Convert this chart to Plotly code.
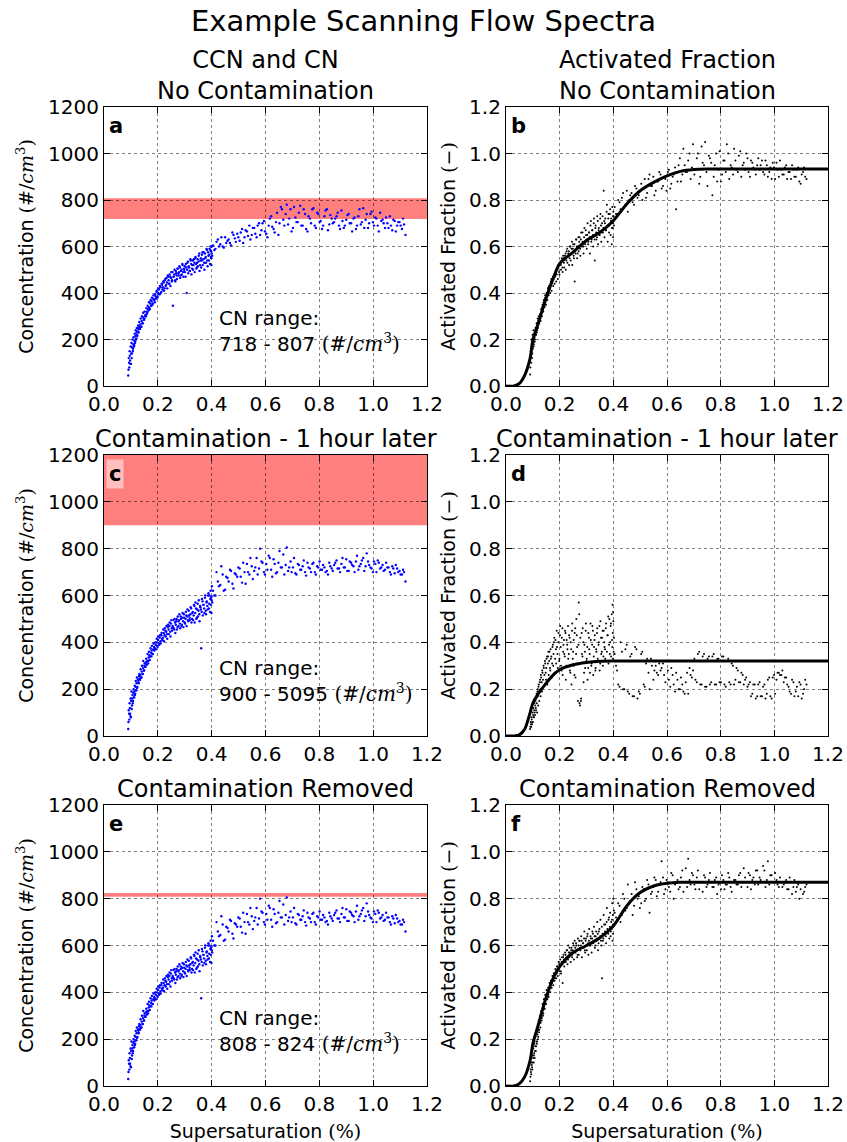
import plotly.graph_objects as go

# ---------------- data ----------------
# scan 1 (up-scan) supersaturation values, %
x_scan = [
    0.090,0.092,0.094,0.095,0.097,0.099,0.100,0.102,0.104,0.106,
    0.108,0.110,0.112,0.114,0.116,0.118,0.120,0.122,0.124,0.127,
    0.129,0.131,0.134,0.136,0.139,0.141,0.144,0.146,0.149,0.151,
    0.154,0.157,0.159,0.162,0.165,0.167,0.170,0.173,0.176,0.178,
    0.181,0.184,0.187,0.190,0.193,0.196,0.199,0.202,0.205,0.208,
    0.211,0.214,0.217,0.220,0.223,0.226,0.229,0.232,0.235,0.238,
    0.241,0.244,0.247,0.250,0.253,0.256,0.259,0.262,0.265,0.268,
    0.271,0.274,0.277,0.280,0.283,0.286,0.289,0.292,0.295,0.298,
    0.301,0.304,0.307,0.310,0.313,0.316,0.319,0.322,0.325,0.328,
    0.331,0.334,0.337,0.340,0.343,0.346,0.349,0.352,0.355,0.358,
    0.361,0.364,0.367,0.370,0.373,0.376,0.379,0.382,0.385,0.388,
    0.390,0.392,0.394,0.396,0.397,0.398,0.399,0.400,0.401,0.402,
    0.410,0.418,0.427,0.436,0.445,0.454,0.463,0.472,0.481,0.490,
    0.499,0.508,0.517,0.526,0.535,0.544,0.553,0.562,0.571,0.580,
    0.589,0.598,0.607,0.616,0.625,0.634,0.643,0.652,0.661,0.670,
    0.679,0.688,0.697,0.706,0.715,0.724,0.733,0.742,0.751,0.760,
    0.769,0.778,0.787,0.796,0.805,0.814,0.823,0.832,0.841,0.850,
    0.859,0.868,0.877,0.886,0.895,0.904,0.913,0.922,0.931,0.940,
    0.949,0.958,0.967,0.976,0.985,0.994,1.003,1.012,1.021,1.030,
    1.039,1.048,1.057,1.066,1.075,1.084,1.093,1.102,1.111,1.120,
]
# scan 2 (down-scan) supersaturation values, %
x_scan2 = [
    0.091,0.093,0.096,0.098,0.101,0.103,0.105,0.107,0.109,0.111,
    0.113,0.115,0.117,0.119,0.121,0.123,0.126,0.128,0.130,0.133,
    0.135,0.138,0.140,0.143,0.145,0.148,0.150,0.153,0.156,0.158,
    0.161,0.164,0.166,0.169,0.172,0.175,0.177,0.180,0.183,0.186,
    0.189,0.192,0.195,0.198,0.201,0.204,0.207,0.210,0.213,0.216,
    0.219,0.222,0.225,0.228,0.231,0.234,0.237,0.240,0.243,0.246,
    0.249,0.252,0.255,0.258,0.261,0.264,0.267,0.270,0.273,0.276,
    0.279,0.282,0.285,0.288,0.291,0.294,0.297,0.300,0.303,0.306,
    0.309,0.312,0.315,0.318,0.321,0.324,0.327,0.330,0.333,0.336,
    0.339,0.342,0.345,0.348,0.351,0.354,0.357,0.360,0.363,0.366,
    0.369,0.372,0.375,0.378,0.381,0.384,0.387,0.391,0.395,0.399,
    0.405,0.414,0.423,0.432,0.441,0.450,0.459,0.468,0.477,0.486,
    0.495,0.504,0.513,0.522,0.531,0.540,0.549,0.558,0.567,0.576,
    0.585,0.594,0.603,0.612,0.621,0.630,0.639,0.648,0.657,0.666,
    0.675,0.684,0.693,0.702,0.711,0.720,0.729,0.738,0.747,0.756,
    0.765,0.774,0.783,0.792,0.801,0.810,0.819,0.828,0.837,0.846,
    0.855,0.864,0.873,0.882,0.891,0.900,0.909,0.918,0.927,0.936,
    0.945,0.954,0.963,0.972,0.981,0.990,0.999,1.008,1.017,1.026,
    1.035,1.044,1.053,1.062,1.071,1.080,1.089,1.098,1.107,1.115,
]

# CCN concentration, panel a
ccn_a = [
    45,120,80,150,110,170,95,185,140,200,
    160,210,175,225,190,240,205,250,215,260,
    230,275,245,290,255,300,270,315,285,320,
    300,335,310,345,325,360,330,370,345,380,
    355,390,370,395,375,410,385,420,395,430,
    400,440,415,450,410,455,430,465,420,470,
    440,480,430,490,455,345,470,500,450,485,
    460,505,475,515,465,495,480,520,470,500,
    490,525,400,530,485,510,495,540,480,520,
    500,545,490,555,505,530,515,560,495,540,
    510,565,520,575,500,550,530,585,515,560,
    540,590,525,600,555,580,520,570,600,560,
    585,620,600,640,595,615,630,605,650,620,
    640,660,615,670,645,630,680,655,690,650,
    700,665,640,720,685,660,745,700,760,690,
    780,720,665,770,705,745,690,760,675,730,
    700,765,680,740,710,690,755,670,735,700,
    720,745,675,710,690,735,700,665,725,690,
    760,705,680,740,700,750,690,720,665,710,
    700,725,680,690,715,665,705,690,720,650,
]
ccn_a2 = [
    70,100,130,95,140,120,165,150,180,170,
    195,185,215,200,230,220,235,245,255,250,
    265,255,280,270,295,285,290,305,300,320,
    315,330,340,335,355,345,365,350,375,370,
    360,385,405,380,400,415,395,425,405,435,
    425,445,420,460,435,445,475,455,440,470,
    465,450,490,470,480,455,495,475,505,485,
    490,510,475,500,525,490,505,515,470,510,
    500,535,515,495,545,525,505,540,520,530,
    550,525,510,545,535,570,520,550,540,575,
    545,530,570,555,590,540,575,565,585,550,
    605,590,630,610,600,640,625,615,660,635,
    655,625,675,640,665,690,650,680,640,700,
    670,710,655,690,730,675,705,650,770,715,
    740,695,760,680,725,705,775,690,740,665,
    720,760,690,745,705,675,730,760,695,720,
    705,730,690,755,680,715,740,700,720,675,
    730,695,765,715,680,740,705,725,690,745,
    715,680,700,730,670,710,690,705,675,695,
]

# CCN concentration, panels c and e (same scan)
ccn_ce = [
    30,110,70,140,95,160,80,190,130,175,
    150,200,165,215,180,235,195,250,210,240,
    225,265,240,285,250,300,265,320,280,310,
    295,330,305,350,320,360,325,375,340,385,
    350,395,365,400,370,415,380,425,390,430,
    395,440,410,455,405,460,425,470,415,475,
    435,485,425,495,450,465,460,500,440,490,
    455,510,470,520,460,500,475,525,465,505,
    480,530,470,540,490,515,495,550,485,525,
    495,560,485,570,500,540,510,580,490,550,
    375,585,515,560,525,600,520,575,540,610,
    545,600,530,620,560,590,525,580,640,570,
    600,700,640,725,620,680,660,705,630,690,
    720,680,740,650,700,760,670,720,690,800,
    740,690,710,760,680,735,700,790,720,690,
    805,720,700,760,690,730,710,750,685,720,
    700,740,690,720,710,730,700,690,725,705,
    740,715,700,760,720,705,745,730,700,770,
    725,750,705,780,730,715,745,700,740,720,
    705,740,720,690,715,730,700,690,710,660,
]
ccn_ce2 = [
    60,95,120,85,150,115,160,140,185,165,
    190,175,210,195,225,205,240,230,255,245,
    260,250,275,265,290,280,300,295,315,305,
    320,310,335,345,340,355,365,350,370,380,
    375,390,400,385,410,395,420,405,430,415,
    420,440,430,450,445,435,465,455,470,445,
    480,460,470,495,455,485,475,500,465,490,
    495,480,510,470,505,490,520,485,500,515,
    510,495,535,505,520,545,500,530,515,555,
    525,545,505,565,535,520,555,540,530,575,
    560,545,590,535,570,555,600,565,585,595,
    620,600,660,645,690,625,675,710,650,695,
    680,715,655,700,735,690,725,705,760,715,
    745,700,735,770,710,755,695,740,720,775,
    730,705,745,720,695,735,710,725,700,740,
    715,735,700,725,745,710,720,705,740,715,
    730,750,715,735,720,755,705,740,725,745,
    710,735,760,725,745,720,700,735,750,715,
    730,710,720,700,725,695,715,705,690,700,
]

# activated fraction, panel b
af_b = [
    0.05,0.15,0.10,0.20,0.12,0.22,0.16,0.24,0.18,0.21,
    0.20,0.25,0.22,0.27,0.24,0.29,0.26,0.30,0.27,0.31,
    0.28,0.33,0.30,0.35,0.32,0.37,0.34,0.39,0.35,0.40,
    0.37,0.42,0.39,0.43,0.40,0.45,0.41,0.46,0.43,0.47,
    0.44,0.48,0.45,0.50,0.46,0.52,0.48,0.53,0.50,0.55,
    0.49,0.55,0.51,0.56,0.50,0.58,0.53,0.57,0.52,0.60,
    0.54,0.59,0.52,0.61,0.55,0.45,0.57,0.63,0.55,0.60,
    0.58,0.64,0.56,0.66,0.60,0.62,0.57,0.68,0.61,0.65,
    0.59,0.70,0.62,0.66,0.57,0.71,0.63,0.67,0.60,0.72,
    0.54,0.69,0.63,0.73,0.61,0.68,0.65,0.74,0.62,0.70,
    0.66,0.84,0.64,0.72,0.67,0.78,0.62,0.74,0.69,0.76,
    0.65,0.72,0.61,0.77,0.68,0.70,0.64,0.75,0.73,0.69,
    0.74,0.80,0.76,0.83,0.78,0.75,0.82,0.79,0.86,0.81,
    0.84,0.80,0.89,0.83,0.91,0.86,0.82,0.88,0.92,0.85,
    0.90,0.84,0.93,0.87,0.91,0.76,0.95,0.88,1.02,0.92,
    0.97,0.89,1.04,0.93,1.00,0.90,0.96,1.05,0.86,0.98,
    0.82,0.95,0.88,1.01,0.91,0.97,1.04,0.89,0.94,1.02,
    0.93,0.99,0.90,0.96,1.00,0.92,0.97,0.94,0.91,0.98,
    0.95,0.92,0.97,0.90,0.94,0.96,0.89,0.93,0.97,0.91,
    0.94,0.89,0.92,0.95,0.90,0.93,0.88,0.91,0.94,0.89,
]
af_b2 = [
    0.08,0.13,0.17,0.14,0.19,0.17,0.21,0.19,0.23,0.22,
    0.24,0.23,0.26,0.25,0.28,0.27,0.30,0.29,0.31,0.33,
    0.34,0.33,0.36,0.35,0.38,0.37,0.39,0.40,0.42,0.41,
    0.43,0.42,0.44,0.46,0.45,0.47,0.46,0.48,0.47,0.49,
    0.48,0.50,0.51,0.49,0.53,0.52,0.54,0.51,0.56,0.53,
    0.55,0.57,0.54,0.59,0.56,0.58,0.55,0.60,0.57,0.62,
    0.59,0.56,0.61,0.58,0.63,0.60,0.57,0.64,0.62,0.59,
    0.63,0.61,0.66,0.60,0.64,0.62,0.67,0.63,0.65,0.61,
    0.66,0.64,0.69,0.62,0.67,0.65,0.70,0.63,0.68,0.66,
    0.64,0.71,0.67,0.65,0.72,0.69,0.66,0.73,0.68,0.71,
    0.70,0.67,0.75,0.69,0.72,0.66,0.74,0.71,0.68,0.73,
    0.77,0.74,0.79,0.81,0.77,0.84,0.80,0.83,0.78,0.85,
    0.82,0.87,0.85,0.81,0.89,0.86,0.90,0.84,0.88,0.91,
    0.86,0.89,0.92,0.85,0.90,0.94,0.88,0.98,0.91,0.95,
    0.92,1.00,0.94,0.91,0.98,0.87,1.03,0.95,0.92,0.99,
    0.96,0.90,1.00,0.93,0.88,0.97,0.92,1.00,0.95,0.91,
    0.97,0.92,1.01,0.95,0.93,0.98,0.90,0.96,0.93,0.95,
    0.93,0.97,0.91,0.95,0.92,0.89,0.94,0.96,0.90,0.93,
    0.91,0.95,0.92,0.89,0.93,0.90,0.94,0.87,0.92,0.90,
]

# activated fraction, panel d
af_d = [
    0.03,0.06,0.04,0.08,0.05,0.10,0.06,0.12,0.08,0.14,
    0.09,0.15,0.11,0.18,0.10,0.20,0.13,0.22,0.15,0.24,
    0.17,0.25,0.19,0.27,0.21,0.29,0.22,0.31,0.24,0.33,
    0.22,0.34,0.26,0.36,0.28,0.33,0.25,0.38,0.30,0.40,
    0.27,0.41,0.31,0.38,0.29,0.44,0.33,0.47,0.30,0.42,
    0.26,0.39,0.35,0.45,0.24,0.41,0.37,0.33,0.43,0.28,
    0.40,0.22,0.48,0.36,0.30,0.44,0.25,0.50,0.38,0.15,
    0.57,0.14,0.42,0.16,0.35,0.46,0.23,0.39,0.29,0.48,
    0.33,0.24,0.44,0.37,0.27,0.41,0.31,0.47,0.26,0.38,
    0.43,0.29,0.36,0.46,0.32,0.40,0.28,0.49,0.35,0.42,
    0.30,0.45,0.38,0.33,0.48,0.36,0.43,0.31,0.50,0.40,
    0.47,0.34,0.52,0.38,0.56,0.44,0.33,0.49,0.36,0.42,
    0.30,0.22,0.40,0.20,0.37,0.19,0.34,0.17,0.38,0.16,
    0.18,0.36,0.21,0.33,0.20,0.30,0.28,0.27,0.31,0.29,
    0.26,0.32,0.24,0.29,0.22,0.27,0.20,0.25,0.19,0.23,
    0.18,0.26,0.28,0.24,0.35,0.22,0.34,0.21,0.33,0.22,
    0.34,0.22,0.33,0.23,0.34,0.22,0.32,0.23,0.31,0.22,
    0.29,0.23,0.27,0.22,0.25,0.22,0.17,0.22,0.16,0.22,
    0.17,0.21,0.16,0.24,0.17,0.25,0.18,0.27,0.26,0.28,
    0.25,0.22,0.19,0.24,0.17,0.21,0.23,0.16,0.20,0.22,
]
af_d2 = [
    0.04,0.05,0.07,0.06,0.09,0.08,0.11,0.10,0.13,0.12,
    0.16,0.14,0.19,0.17,0.21,0.19,0.23,0.20,0.26,0.23,
    0.28,0.24,0.30,0.26,0.32,0.27,0.29,0.34,0.31,0.36,
    0.32,0.29,0.37,0.34,0.31,0.39,0.35,0.42,0.33,0.37,
    0.45,0.35,0.40,0.32,0.43,0.38,0.28,0.46,0.36,0.41,
    0.34,0.44,0.30,0.39,0.47,0.35,0.42,0.27,0.37,0.45,
    0.33,0.41,0.26,0.46,0.35,0.43,0.31,0.39,0.52,0.13,
    0.15,0.44,0.34,0.40,0.27,0.36,0.45,0.32,0.38,0.29,
    0.42,0.35,0.48,0.30,0.39,0.45,0.34,0.41,0.28,0.37,
    0.44,0.33,0.39,0.47,0.31,0.42,0.36,0.45,0.34,0.40,
    0.37,0.46,0.32,0.43,0.51,0.39,0.35,0.48,0.41,0.53,
    0.35,0.28,0.21,0.36,0.20,0.39,0.18,0.35,0.17,0.37,
    0.19,0.35,0.22,0.31,0.27,0.33,0.24,0.30,0.26,0.28,
    0.31,0.23,0.28,0.21,0.26,0.19,0.24,0.20,0.22,0.18,
    0.27,0.29,0.25,0.33,0.23,0.36,0.22,0.35,0.21,0.34,
    0.23,0.35,0.22,0.33,0.23,0.34,0.21,0.33,0.22,0.30,
    0.24,0.28,0.23,0.26,0.24,0.21,0.23,0.18,0.22,0.17,
    0.23,0.17,0.22,0.18,0.25,0.16,0.26,0.24,0.27,0.26,
    0.23,0.25,0.21,0.18,0.23,0.19,0.17,0.22,0.18,0.24,
]

# activated fraction, panel f
af_f = [
    0.02,0.07,0.05,0.10,0.08,0.13,0.10,0.16,0.13,0.18,
    0.15,0.21,0.17,0.23,0.19,0.25,0.21,0.28,0.24,0.30,
    0.27,0.32,0.29,0.35,0.31,0.37,0.33,0.39,0.35,0.41,
    0.37,0.42,0.38,0.44,0.40,0.45,0.42,0.47,0.43,0.48,
    0.45,0.50,0.46,0.51,0.47,0.53,0.49,0.54,0.48,0.55,
    0.44,0.56,0.51,0.57,0.53,0.58,0.52,0.60,0.55,0.57,
    0.53,0.59,0.56,0.61,0.54,0.62,0.57,0.60,0.55,0.63,
    0.56,0.62,0.58,0.64,0.55,0.61,0.59,0.66,0.57,0.63,
    0.58,0.65,0.56,0.67,0.60,0.63,0.57,0.66,0.61,0.68,
    0.59,0.64,0.62,0.70,0.58,0.66,0.63,0.71,0.60,0.46,
    0.62,0.73,0.65,0.69,0.61,0.76,0.66,0.71,0.63,0.74,
    0.64,0.70,0.67,0.78,0.62,0.73,0.65,0.80,0.69,0.75,
    0.72,0.78,0.70,0.82,0.75,0.86,0.79,0.73,0.87,0.80,
    0.76,0.85,0.79,0.88,0.74,0.83,0.89,0.81,0.86,0.96,
    0.82,0.88,0.85,0.91,0.80,0.87,0.84,0.89,0.83,0.93,
    0.97,0.86,0.90,0.84,0.92,0.87,0.83,0.89,0.86,0.91,
    0.85,0.88,0.82,0.87,0.90,0.84,0.86,0.89,0.83,0.88,
    0.86,0.90,0.85,0.93,0.87,0.91,0.84,0.89,0.92,0.86,
    0.88,0.94,0.85,0.96,0.90,0.87,0.91,0.86,0.89,0.85,
    0.87,0.84,0.89,0.82,0.88,0.85,0.80,0.87,0.83,0.86,
]
af_f2 = [
    0.04,0.06,0.09,0.07,0.12,0.10,0.14,0.12,0.17,0.15,
    0.19,0.18,0.22,0.20,0.24,0.23,0.27,0.25,0.29,0.28,
    0.31,0.30,0.34,0.33,0.36,0.35,0.39,0.37,0.40,0.39,
    0.41,0.43,0.42,0.45,0.44,0.46,0.45,0.48,0.46,0.49,
    0.48,0.51,0.50,0.52,0.51,0.49,0.53,0.52,0.55,0.54,
    0.53,0.56,0.55,0.58,0.54,0.57,0.59,0.56,0.58,0.55,
    0.58,0.60,0.57,0.59,0.61,0.58,0.56,0.60,0.62,0.59,
    0.60,0.62,0.59,0.61,0.63,0.58,0.62,0.60,0.64,0.61,
    0.62,0.60,0.64,0.61,0.63,0.65,0.62,0.64,0.60,0.66,
    0.63,0.65,0.61,0.67,0.64,0.62,0.68,0.65,0.63,0.69,
    0.66,0.64,0.70,0.67,0.65,0.72,0.68,0.66,0.71,0.69,
    0.74,0.71,0.77,0.73,0.80,0.76,0.78,0.82,0.77,0.84,
    0.81,0.78,0.84,0.80,0.86,0.82,0.85,0.88,0.83,0.87,
    0.89,0.84,0.87,0.83,0.90,0.86,0.88,0.85,0.92,0.87,
    0.85,0.88,0.91,0.86,0.89,0.84,0.87,0.90,0.85,0.88,
    0.87,0.85,0.89,0.86,0.84,0.88,0.86,0.91,0.85,0.87,
    0.88,0.86,0.91,0.87,0.89,0.85,0.90,0.88,0.86,0.92,
    0.89,0.87,0.92,0.88,0.86,0.90,0.87,0.88,0.85,0.87,
    0.86,0.88,0.84,0.87,0.85,0.83,0.86,0.84,0.82,0.85,
]

# fitted activation curves
x_fit = [0.0,0.03,0.05,0.07,0.09,0.10,0.12,0.15,0.18,0.20,0.25,0.30,
         0.35,0.40,0.45,0.50,0.55,0.60,0.65,0.70,0.75,0.80,1.20]
fit_b = [0,0,0.011,0.047,0.12,0.197,0.27,0.38,0.475,0.526,0.576,0.626,
         0.661,0.711,0.783,0.84,0.876,0.904,0.923,0.931,0.933,0.933,0.933]
fit_d = [0,0,0.005,0.03,0.10,0.14,0.18,0.226,0.265,0.283,0.304,0.314,
         0.319,0.32,0.32,0.32,0.32,0.32,0.32,0.32,0.32,0.32,0.32]
fit_f = [0,0,0.01,0.04,0.11,0.18,0.26,0.38,0.47,0.51,0.57,0.60,
         0.633,0.683,0.769,0.826,0.854,0.866,0.87,0.87,0.87,0.87,0.87]

cn_low = [718, 900, 808]
cn_high = [807, 5095, 824]
panel_letters = ["a", "b", "c", "d", "e", "f"]
row_titles_left = ["CCN and CN<br>No Contamination", "Contamination - 1 hour later", "Contamination Removed"]
row_titles_right = ["Activated Fraction<br>No Contamination", "Contamination - 1 hour later", "Contamination Removed"]
x_ticks = [0.0, 0.2, 0.4, 0.6, 0.8, 1.0, 1.2]
conc_ticks = [0, 200, 400, 600, 800, 1000, 1200]
af_ticks = [0.0, 0.2, 0.4, 0.6, 0.8, 1.0, 1.2]

# ---------------- layout geometry ----------------
W, H = 847, 1142
col_dom = [[104 / W, 427 / W], [506 / W, 828 / W]]
row_dom = [[1 - 386 / H, 1 - 107 / H], [1 - 736 / H, 1 - 455 / H], [1 - 1086 / H, 1 - 805 / H]]

FONT = "DejaVu Sans"
SERIF = "DejaVu Serif"

fig = go.Figure()
ccn_sets = [(ccn_a, ccn_a2), (ccn_ce, ccn_ce2), (ccn_ce, ccn_ce2)]
af_sets = [(af_b, af_b2), (af_d, af_d2), (af_f, af_f2)]
fit_sets = [fit_b, fit_d, fit_f]

shapes = []
annotations = []
layout_axes = {}

for r in range(3):
    for c in range(2):
        idx = r * 2 + c + 1
        xa = "x" if idx == 1 else f"x{idx}"
        ya = "y" if idx == 1 else f"y{idx}"
        xkey = "xaxis" if idx == 1 else f"xaxis{idx}"
        ykey = "yaxis" if idx == 1 else f"yaxis{idx}"

        if c == 0:
            shapes.append(dict(type="rect", xref=f"{xa} domain", yref=ya, x0=0, x1=1,
                               y0=cn_low[r], y1=min(cn_high[r], 1200),
                               fillcolor="rgba(255,0,0,0.5)", line=dict(width=0), layer="below"))
            for xs, ys in ((x_scan, ccn_sets[r][0]), (x_scan2, ccn_sets[r][1])):
                fig.add_trace(go.Scatter(x=xs, y=ys, mode="markers", xaxis=xa, yaxis=ya,
                                         marker=dict(color="blue", size=2.4, line=dict(width=0)),
                                         showlegend=False, hoverinfo="skip"))
            yt = dict(range=[0, 1200], tickvals=conc_ticks,
                      ticktext=[str(v) for v in conc_ticks])
            ytitle = ("Concentration <span style='font-family:" + SERIF + "'>(#/<i>cm</i><sup>3</sup>)</span>")
            ystand = 9
            annotations.append(dict(
                xref=xa, yref=ya, x=0.42, y=236, xanchor="left", yanchor="middle",
                text="CN range:<br>" + f"{cn_low[r]} - {cn_high[r]} " +
                     "<span style='font-family:" + SERIF + "'>(#/<i>cm</i><sup>3</sup>)</span>",
                showarrow=False, align="left", font=dict(family=FONT, size=20, color="black")))
        else:
            for xs, ys in ((x_scan, af_sets[r][0]), (x_scan2, af_sets[r][1])):
                fig.add_trace(go.Scatter(x=xs, y=ys, mode="markers", xaxis=xa, yaxis=ya,
                                         marker=dict(color="black", size=2.0, line=dict(width=0)),
                                         showlegend=False, hoverinfo="skip"))
            fig.add_trace(go.Scatter(x=x_fit, y=fit_sets[r], mode="lines", xaxis=xa, yaxis=ya,
                                     line=dict(color="black", width=3, shape="spline", smoothing=0.8),
                                     showlegend=False, hoverinfo="skip"))
            yt = dict(range=[0, 1.2], tickvals=af_ticks,
                      ticktext=[f"{v:.1f}" for v in af_ticks])
            ytitle = ("Activated Fraction <span style='font-family:" + SERIF + "'>(\u2212)</span>")
            ystand = 8

        common = dict(showline=True, linecolor="black", linewidth=1.2, mirror="allticks",
                      ticks="inside", ticklen=6, tickcolor="black", tickwidth=1,
                      showgrid=True, gridcolor="rgba(0,0,0,0.5)", griddash="dot", gridwidth=1,
                      zeroline=False, automargin=False,
                      tickfont=dict(family=FONT, size=20, color="black"))
        layout_axes[xkey] = dict(domain=col_dom[c], anchor=ya, range=[0, 1.2],
                                 tickvals=x_ticks, ticktext=[f"{v:.1f}" for v in x_ticks],
                                 **common)
        if r == 2:
            layout_axes[xkey]["title"] = dict(
                text="Supersaturation <span style='font-family:" + SERIF + "'>(%)</span>",
                font=dict(family=FONT, size=19, color="black"), standoff=9)
        layout_axes[ykey] = dict(domain=row_dom[r], anchor=xa, **yt, **common,
                                 title=dict(text=ytitle, font=dict(family=FONT, size=19, color="black"),
                                            standoff=ystand))

        annotations.append(dict(xref=f"{xa} domain", yref=f"{ya} domain", x=0.005, y=0.985,
                                xanchor="left", yanchor="top", showarrow=False,
                                text=f"<b>{panel_letters[idx - 1]}</b>",
                                font=dict(family=FONT, size=21, color="black"),
                                bgcolor="rgba(255,255,255,0.5)", borderpad=2))

    for c, txt in enumerate([row_titles_left[r], row_titles_right[r]]):
        annotations.append(dict(xref="paper", yref="paper",
                                x=(col_dom[c][0] + col_dom[c][1]) / 2, y=row_dom[r][1],
                                xanchor="center", yanchor="bottom", showarrow=False,
                                text=txt, font=dict(family=FONT, size=24, color="black"),
                                yshift=0))

annotations.append(dict(xref="paper", yref="paper", x=0.5, y=1, yshift=-2,
                        xanchor="center", yanchor="top", showarrow=False,
                        text="Example Scanning Flow Spectra",
                        font=dict(family=FONT, size=29, color="black")))

fig.update_layout(width=W, height=H, margin=dict(l=0, r=0, t=0, b=0),
                  paper_bgcolor="white", plot_bgcolor="white",
                  shapes=shapes, annotations=annotations,
                  font=dict(family=FONT, color="black"), **layout_axes)

fig.write_html("out.html")
